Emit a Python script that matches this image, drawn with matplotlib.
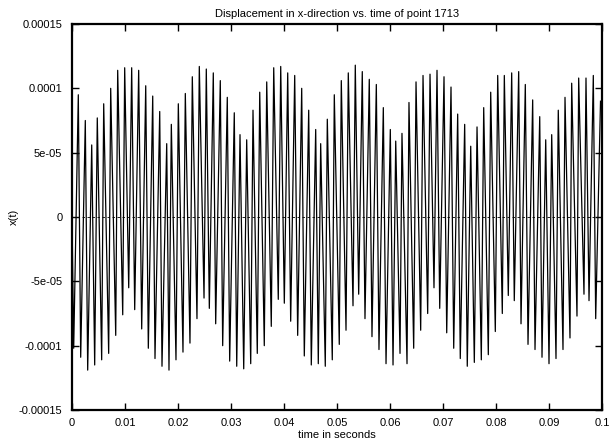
import numpy as np
import matplotlib
matplotlib.use("Agg")
import matplotlib.pyplot as plt

plt.rcParams['font.family'] = ['Liberation Sans', 'DejaVu Sans']

# ---- data (time in ms, displacement in units of 1e-5) ----
trough_t_ms = [0.32, 1.64, 2.96, 4.28, 5.60, 6.92, 8.25, 9.57, 10.70, 11.83, 13.15, 14.40,
               15.66, 16.98, 18.30, 19.62, 20.94, 22.26, 23.58, 24.91, 25.91, 27.11, 28.43,
               29.75, 31.08, 32.40, 33.72, 34.96, 36.28, 37.60, 38.92, 40.06, 41.26, 42.58,
               43.83, 45.15, 46.47, 47.79, 49.11, 50.43, 51.70, 53.02, 54.09, 55.28, 56.60,
               57.92, 59.25, 60.57, 61.89, 63.21, 64.47, 65.79, 67.11, 68.30, 69.38, 70.70,
               72.02, 73.26, 74.58, 75.91, 77.23, 78.55, 79.87, 81.19, 82.32, 83.45, 84.72,
               86.04, 87.36, 88.68, 90.00, 91.32, 92.64, 93.96, 95.28, 96.60, 97.55, 98.81]
trough_v = [-10.2, -10.9, -11.9, -11.5, -11.1, -10.6, -9.2, -7.6, -5.5, -7.2, -8.7, -10.2,
            -11.0, -11.6, -11.9, -11.1, -10.5, -9.8, -7.9, -6.3, -7.1, -8.3, -10.0,
            -11.2, -11.6, -11.8, -11.4, -10.6, -10.0, -8.5, -6.4, -6.7, -8.1, -9.2,
            -10.8, -11.5, -11.4, -11.6, -11.1, -9.9, -8.8, -6.9, -6.0, -7.9, -9.3,
            -10.3, -11.4, -11.5, -10.6, -11.4, -10.2, -8.8, -7.5, -5.5, -7.1, -9.0,
            -10.2, -11.0, -11.6, -11.3, -11.1, -10.7, -8.9, -7.5, -6.1, -6.5, -8.3,
            -9.9, -10.3, -10.9, -11.4, -11.0, -10.3, -9.4, -7.7, -6.0, -6.5, -7.9]

peak_t_ms = [1.19, 2.51, 3.72, 4.77, 5.98, 7.30, 8.62, 9.94, 11.26, 12.58, 13.91, 15.23,
             16.55, 17.87, 18.74, 20.06, 21.38, 22.70, 24.02, 25.34, 26.66, 27.98, 29.30,
             30.62, 31.70, 32.96, 34.15, 35.42, 36.74, 38.06, 39.38, 40.70, 42.02, 43.34,
             44.66, 45.98, 46.92, 48.17, 49.49, 50.81, 52.13, 53.45, 54.77, 56.09, 57.42,
             58.74, 60.06, 61.08, 62.26, 63.58, 64.91, 66.23, 67.55, 68.87, 70.19, 71.51,
             72.77, 74.09, 75.23, 76.42, 77.68, 79.00, 80.32, 81.57, 82.96, 84.28, 85.53,
             86.92, 88.25, 89.38, 90.51, 91.75, 93.02, 94.28, 95.60, 96.98, 98.36, 99.72]
peak_v = [9.5, 7.5, 5.6, 7.7, 8.8, 10.0, 11.4, 11.6, 11.6, 11.4, 10.2, 9.4,
          8.2, 5.7, 7.2, 8.8, 9.6, 10.9, 11.7, 11.5, 11.2, 10.6, 9.3,
          8.1, 6.4, 6.0, 8.3, 9.7, 10.5, 11.6, 11.7, 11.2, 11.0, 10.0,
          8.3, 6.8, 5.7, 7.6, 9.5, 10.6, 11.2, 11.8, 11.3, 10.7, 10.3,
          8.5, 6.8, 5.9, 6.5, 8.9, 10.5, 11.0, 11.1, 11.4, 10.9, 10.1,
          8.0, 7.2, 5.5, 7.0, 8.5, 9.7, 11.0, 11.0, 11.2, 11.3, 10.3,
          9.1, 7.8, 6.0, 6.4, 8.3, 9.3, 10.4, 10.8, 10.8, 11.0, 9.0]

x_ticks = [0, 0.01, 0.02, 0.03, 0.04, 0.05, 0.06, 0.07, 0.08, 0.09, 0.1]
x_tick_labels = ["0", "0.01", "0.02", "0.03", "0.04", "0.05", "0.06", "0.07", "0.08", "0.09", "0.1"]
y_ticks = [-0.00015, -0.0001, -5e-05, 0, 5e-05, 0.0001, 0.00015]
y_tick_labels = ["-0.00015", "-0.0001", "-5e-05", "0", "5e-05", "0.0001", "0.00015"]

title = "Displacement in x-direction vs. time of point 1713"
xlabel = "time in seconds"
ylabel = "x(t)"

# ---- assemble series ----
t = np.concatenate([[0.0], np.array(trough_t_ms), np.array(peak_t_ms)]) / 1000.0
v = np.concatenate([[0.0], np.array(trough_v), np.array(peak_v)]) * 1e-5
order = np.argsort(t)
t = t[order]
v = v[order]

W, H = 610, 445
fig = plt.figure(figsize=(W / 100, H / 100), dpi=100)
ax = fig.add_axes([72 / W, 35 / H, 530 / W, 375 / H + 11 / H])

ax.axhline(0, color='black', lw=0.6, linestyle=(0, (3, 3)), zorder=1)
ax.plot(t, v, color='black', lw=0.9, zorder=2)

ax.set_xlim(0, 0.1)
ax.set_ylim(-0.00015, 0.00015)
ax.set_xticks(x_ticks)
ax.set_xticklabels(x_tick_labels)
ax.set_yticks(y_ticks)
ax.set_yticklabels(y_tick_labels)

ax.tick_params(direction='in', length=5, width=1.0, top=True, right=True,
               labelsize=8, colors='black')
ax.tick_params(axis='y', pad=7)
ax.tick_params(axis='x', pad=6)
for s in ax.spines.values():
    s.set_linewidth(1.6)

ax.set_title(title, fontsize=8, pad=5)
ax.set_xlabel(xlabel, fontsize=8, labelpad=1)
fig.text(14 / W, 1 - 217 / H, ylabel, rotation=90, fontsize=8, ha='center', va='center')

fig.savefig("out.png", dpi=100)
